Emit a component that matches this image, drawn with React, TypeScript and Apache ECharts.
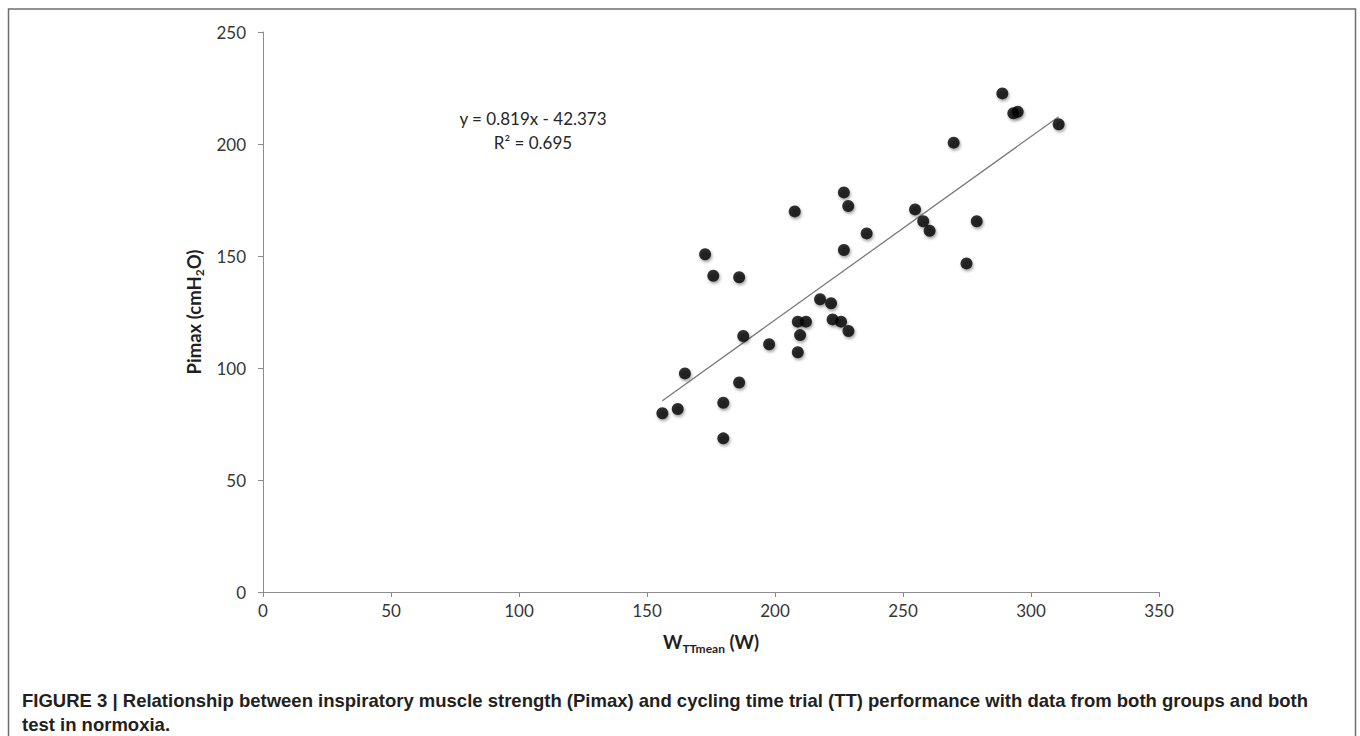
import React, { useEffect, useRef } from "react";
import * as echarts from "echarts";

// W_TTmean (W) vs Pimax (cmH2O)
const wttMean = [
  288.8, 293.1, 294.8, 310.8, 269.8, 226.9, 228.6, 207.7, 254.7, 257.9, 260.4,
  278.8, 235.8, 226.9, 274.8, 172.7, 175.9, 186.0, 187.6, 197.7, 208.9, 212.1,
  209.8, 208.9, 217.6, 221.9, 222.5, 225.8, 228.7, 164.8, 162.0, 156.0, 179.8,
  186.0, 179.8,
];
const pimax = [
  222.6, 213.7, 214.4, 208.8, 200.6, 178.4, 172.3, 169.9, 170.8, 165.5, 161.3,
  165.5, 160.1, 152.7, 146.7, 150.8, 141.2, 140.5, 114.3, 110.6, 120.7, 120.7,
  114.7, 107.0, 130.7, 128.9, 121.7, 120.7, 116.5, 97.6, 81.7, 79.8, 84.5,
  93.5, 68.6,
];
const slope = 0.819;
const intercept = -42.373;
const rSquared = "0.695";
const xTicks = [0, 50, 100, 150, 200, 250, 300, 350];
const yTicks = [0, 50, 100, 150, 200, 250];
const caption1 =
  "FIGURE 3 | Relationship between inspiratory muscle strength (Pimax) and cycling time trial (TT) performance with data from both groups and both";
const caption2 = "test in normoxia.";

export default function App() {
  const ref = useRef<HTMLDivElement>(null);
  useEffect(() => {
    if (!ref.current) return;
    const chart = echarts.init(ref.current, null, { renderer: "svg" });
    const points = wttMean.map((x, i) => [x, pimax[i]]);
    const xMin = Math.min(...wttMean);
    const xMax = Math.max(...wttMean);
    const trend = [
      [xMin, slope * xMin + intercept],
      [xMax, slope * xMax + intercept],
    ];
    const font = "Lato, 'Open Sans', sans-serif";
    const titleRich = {
      a: { fontFamily: font, fontWeight: "bold", fontSize: 18.5, color: "#1f1f1f", lineHeight: 24 },
      s: { fontFamily: font, fontWeight: "bold", fontSize: 12, color: "#1f1f1f", lineHeight: 8, verticalAlign: "bottom" },
    };
    chart.setOption({
      animation: false,
      backgroundColor: "#ffffff",
      grid: { left: 263, right: 201, top: 32, bottom: 144, containLabel: false },
      xAxis: {
        type: "value",
        min: xTicks[0],
        max: xTicks[xTicks.length - 1],
        interval: 50,
        name: "{a|W}{s|TTmean}{a| (W)}",
        nameLocation: "middle",
        nameGap: 38,
        nameTextStyle: { rich: titleRich },
        axisLine: { show: true, lineStyle: { color: "#8c8c8c", width: 1 } },
        axisTick: { show: true, length: 5, lineStyle: { color: "#8c8c8c" } },
        splitLine: { show: false },
        axisLabel: { fontFamily: font, fontSize: 17, color: "#363636", margin: 10 },
      },
      yAxis: {
        type: "value",
        min: yTicks[0],
        max: yTicks[yTicks.length - 1],
        interval: 50,
        name: "{a|Pimax (cmH}{s|2}{a|O)}",
        nameLocation: "middle",
        nameGap: 53,
        nameRotate: 90,
        nameTextStyle: { rich: titleRich },
        axisLine: { show: true, lineStyle: { color: "#8c8c8c", width: 1 } },
        axisTick: { show: true, length: 5, lineStyle: { color: "#8c8c8c" } },
        splitLine: { show: false },
        axisLabel: { fontFamily: font, fontSize: 17, color: "#363636", margin: 17 },
      },
      series: [
        {
          type: "line",
          data: trend,
          symbol: "none",
          lineStyle: { color: "#7a7a7a", width: 1.3 },
          z: 1,
        },
        {
          type: "scatter",
          data: points,
          symbol: "circle",
          symbolSize: 12,
          itemStyle: {
            color: "#000000",
            shadowColor: "rgba(0,0,0,0.45)",
            shadowBlur: 3,
            shadowOffsetX: 1,
            shadowOffsetY: 2,
          },
          z: 2,
        },
      ],
      graphic: [
        {
          type: "rect",
          shape: { x: 8.5, y: 9, width: 1347, height: 740 },
          style: { fill: "none", stroke: "#6e6e6e", lineWidth: 1.5 },
          silent: true,
        },
        {
          type: "text",
          x: 533,
          y: 118,
          style: {
            text: `y = ${slope}x - ${Math.abs(intercept)}`,
            font: `17px ${font}`,
            fill: "#262626",
            align: "center",
            verticalAlign: "middle",
          },
        },
        {
          type: "text",
          x: 533,
          y: 142,
          style: {
            text: `R² = ${rSquared}`,
            font: `17px ${font}`,
            fill: "#262626",
            align: "center",
            verticalAlign: "middle",
          },
        },
        {
          type: "text",
          x: 22,
          y: 700,
          style: {
            text: caption1,
            font: "bold 18.5px 'Liberation Sans', Arial, sans-serif",
            fill: "#231f20",
            align: "left",
            verticalAlign: "middle",
          },
        },
        {
          type: "text",
          x: 22,
          y: 724,
          style: {
            text: caption2,
            font: "bold 18.5px 'Liberation Sans', Arial, sans-serif",
            fill: "#231f20",
            align: "left",
            verticalAlign: "middle",
          },
        },
      ],
    });
    return () => chart.dispose();
  }, []);
  return (
    <div
      ref={ref}
      style={{ position: "fixed", left: 0, top: 0, width: 1360, height: 736 }}
    />
  );
}
